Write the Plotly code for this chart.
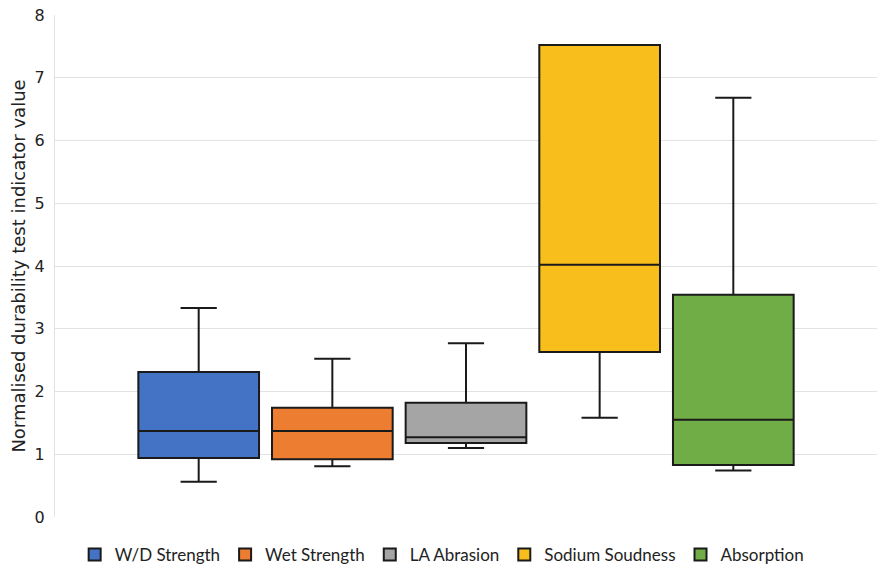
import plotly.graph_objects as go

names = ["W/D Strength", "Wet Strength", "LA Abrasion", "Sodium Soudness", "Absorption"]
colors = ["#4472C4", "#ED7D31", "#A5A5A5", "#F8BE1C", "#70AD47"]
lower = [0.56, 0.81, 1.10, 1.58, 0.74]
q1 = [0.94, 0.92, 1.18, 2.63, 0.83]
median = [1.37, 1.37, 1.27, 4.02, 1.55]
q3 = [2.31, 1.74, 1.82, 7.52, 3.54]
upper = [3.33, 2.52, 2.77, 7.52, 6.68]

fig = go.Figure()
for i, n in enumerate(names):
    fig.add_trace(go.Box(
        name=n, x=["all"], q1=[q1[i]], median=[median[i]], q3=[q3[i]],
        lowerfence=[lower[i]], upperfence=[upper[i]],
        fillcolor=colors[i], line=dict(color="#1a1a1a", width=2),
        whiskerwidth=0.3, boxpoints=False, hoverinfo="skip",
    ))

fig.update_layout(
    width=879, height=568,
    margin=dict(l=55, r=2, t=15, b=51),
    plot_bgcolor="white", paper_bgcolor="white",
    boxmode="group", boxgap=0.187, boxgroupgap=0.097,
    font=dict(family="DejaVu Sans", color="#222"),
    showlegend=True,
    legend=dict(orientation="h", x=0.471, xanchor="center", yref="container", y=0.023, yanchor="middle",
                font=dict(size=17, family="Lato"), itemwidth=30, tracegroupgap=0),
    xaxis=dict(showticklabels=False, range=[-0.5, 0.5], showgrid=False, zeroline=False,
               showline=False, ticks=""),
    yaxis=dict(range=[0, 8], dtick=1, showgrid=True, gridcolor="#e2e2e2", gridwidth=1,
               zeroline=False, showline=True, linecolor="#e2e2e2", ticks="",
               automargin=False, ticklabelstandoff=6,
               tickfont=dict(size=16),
               title=dict(text="Normalised durability test indicator value", font=dict(size=18), standoff=4)),
)
fig.write_html("out.html", config={"displayModeBar": False},
               post_script="document.body.style.margin='0';")
